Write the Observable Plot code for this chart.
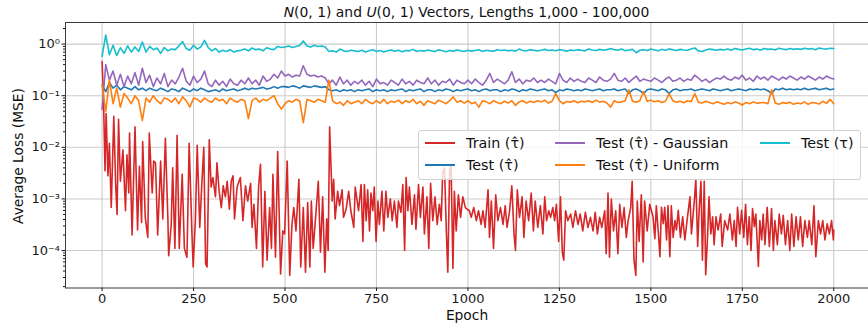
<!DOCTYPE html>
<html><head><meta charset="utf-8">
<script src="https://cdn.jsdelivr.net/npm/d3@7"></script>
<script src="https://cdn.jsdelivr.net/npm/@observablehq/plot@0.6"></script>
<style>
body{margin:0;background:#fff;font-family:"DejaVu Sans",sans-serif;}
#wrap{position:relative;width:868px;height:325px;overflow:hidden;background:#fff;}
#title{position:absolute;top:3px;left:65px;width:803px;text-align:center;font-size:13.9px;color:#111;white-space:nowrap;line-height:18px;}
#legend{position:absolute;left:418px;top:130px;width:443px;height:50px;box-sizing:border-box;border:1px solid #d0d0d0;border-radius:3px;background:rgba(255,255,255,0.8);font-size:14.3px;color:#111;}
.li{position:absolute;white-space:nowrap;line-height:16px;}
.ls{position:absolute;height:2px;}
#chart svg, #chart svg text{font-family:"DejaVu Sans",sans-serif !important;}
#chart svg text{font-size:13px;}
#chart svg text.axlab{font-size:13.8px;}
</style></head><body>
<div id="wrap"><div id="chart"></div><div id="title"><i>N</i>(0, 1) and <i>U</i>(0, 1) Vectors, Lengths 1,000 - 100,000</div><div id="legend"></div></div>
<script>
// ---------- data ----------
const seriesNames = ["Train (\u03C4\u0302)", "Test (\u03C4\u0302)", "Test (\u03C4\u0302) - Gaussian", "Test (\u03C4\u0302) - Uniform", "Test (\u03C4)"];
const seriesColors = ["#d62728", "#1f77b4", "#9467bd", "#ff7f0e", "#17becf"];
const xTicks = [0, 250, 500, 750, 1000, 1250, 1500, 1750, 2000];
const yTicks = [1e-4, 1e-3, 1e-2, 1e-1, 1];
const yLabel = "Average Loss (MSE)";
const xLabel = "Epoch";

// Train: [epoch, loss] local extremes
const trainReadings = [
[0,0.46],[4,0.08],[8,3.5e-3],[11,0.045],[16,2.8e-3],[20,0.012],[25,6.8e-4],[32,0.04],[37,2.0e-3],[41,5.0e-4],
[45,0.035],[50,2.2e-3],[57,8.9e-3],[64,5.9e-4],[68,7.2e-3],[73,1.3e-3],[75,1.9e-2],[82,2.0e-4],[90,2.5e-2],[97,2.5e-4],
[102,4.3e-3],[108,3.5e-4],[111,1.3e-2],[118,4.4e-4],[125,1.8e-4],[129,1.9e-2],[137,1.3e-3],[141,5.4e-3],[146,5.0e-3],[152,2.0e-4],
[160,5.4e-3],[166,4.1e-4],[173,1.5e-2],[180,3.8e-4],[182,7.9e-5],[189,3.2e-4],[193,4.0e-3],[199,1.1e-4],[205,1.7e-2],[211,1.1e-4],
[219,3.0e-3],[225,1.1e-4],[232,7.4e-5],[238,1.2e-2],[246,1.8e-4],[249,4.8e-5],[255,3.8e-4],[260,1.1e-2],[267,2.8e-4],[273,2.2e-3],
[278,1.0e-2],[283,5.5e-5],[287,4.8e-5],[293,1.4e-2],[298,1.7e-3],[303,2.6e-3],[310,1.1e-3],[314,5.0e-3],[320,1.4e-3],[326,6.8e-4],
[331,1.8e-3],[337,1.1e-3],[342,2.2e-3],[348,6.3e-4],[353,2.2e-3],[358,2.8e-3],[362,4.1e-4],[369,1.7e-3],[378,2.6e-3],[385,3.8e-4],
[392,1.8e-3],[398,9.1e-4],[406,2.0e-3],[410,2.8e-4],[415,7.9e-4],[422,1.1e-4],[428,1.8e-3],[433,4.7e-3],[439,4.8e-5],[445,1.4e-3],
[451,6.5e-5],[458,6.8e-4],[463,1.1e-4],[467,3.0e-3],[474,7.4e-5],[480,8.3e-3],[488,3.5e-5],[494,2.4e-4],[499,2.1e-4],[506,5.4e-3],
[513,3.3e-5],[519,3.2e-4],[524,6.8e-4],[530,2.4e-4],[538,2.4e-3],[543,4.8e-5],[550,6.8e-4],[556,3.8e-5],[562,8.5e-4],[568,4.8e-5],
[572,9.1e-4],[577,1.1e-4],[583,3.8e-4],[591,2.2e-3],[597,9.3e-5],[603,1.1e-3],[609,3.8e-5],[614,4.1e-4],[618,1.0e-4],[622,2.5e-2],
[629,9.1e-4],[633,2.4e-3],[637,4.1e-4],[644,1.4e-3],[649,7.4e-4],[656,1.5e-3],[660,4.4e-4],[667,6.3e-4],[674,1.4e-3],[680,5.9e-4],
[688,2.8e-4],[692,1.7e-3],[701,5.9e-4],[708,1.9e-3],[713,1.5e-4],[717,1.9e-3],[722,3.8e-4],[726,1.5e-3],[731,2.4e-4],[735,1.3e-3],
[740,5.9e-4],[744,1.7e-3],[749,1.5e-4],[754,9.1e-4],[758,3.2e-4],[765,1.4e-3],[770,2.4e-4],[776,1.4e-3],[781,4.4e-4],[788,1.0e-3],
[793,3.8e-4],[799,9.1e-4],[806,2.8e-4],[810,9.1e-4],[817,5.5e-4],[822,1.9e-3],[827,1.0e-4],[831,2.6e-3],[836,5.9e-4],[840,1.7e-3],
[847,3.2e-4],[854,1.2e-3],[858,2.6e-4],[865,1.9e-3],[870,4.4e-4],[877,1.7e-3],[881,2.1e-4],[888,1.1e-3],[893,1.1e-4],[898,2.0e-3],
[904,3.8e-4],[910,1.1e-3],[916,3.2e-4],[922,7.9e-4],[927,3.8e-4],[931,3.2e-3],[936,4.0e-3],[941,2.4e-4],[945,3.8e-5],[950,3.5e-3],
[954,4.7e-3],[959,4.5e-5],[963,1.4e-3],[968,2.4e-4],[974,1.2e-3],[980,4.4e-4],[986,1.1e-3],[993,6.8e-4],[998,6.3e-4],[1004,5.9e-4],
[1009,4.4e-4],[1016,6.8e-4],[1023,3.8e-4],[1029,5.9e-4],[1036,3.2e-4],[1041,5.9e-4],[1047,2.8e-4],[1055,1.5e-3],[1059,1.8e-4],[1064,9.1e-4],
[1070,1.1e-4],[1076,1.2e-3],[1082,3.8e-4],[1089,6.8e-4],[1096,3.2e-4],[1102,7.4e-4],[1107,2.8e-4],[1114,5.9e-4],[1120,1.8e-3],[1126,2.1e-4],
[1130,1.0e-4],[1135,1.5e-3],[1141,4.4e-4],[1148,1.1e-3],[1153,1.8e-4],[1159,9.1e-4],[1166,3.8e-4],[1173,1.3e-3],[1179,2.4e-4],[1184,9.1e-4],
[1191,2.8e-4],[1198,7.4e-4],[1205,2.1e-4],[1210,1.1e-3],[1215,3.8e-4],[1221,5.9e-4],[1226,4.4e-4],[1232,6.8e-4],[1237,3.8e-4],[1242,7.9e-4],
[1248,1.5e-4],[1253,1.1e-3],[1258,9.3e-5],[1262,6.5e-5],[1267,5.9e-4],[1273,3.8e-4],[1281,5.1e-4],[1287,2.8e-4],[1294,5.9e-4],[1301,3.2e-4],
[1307,5.1e-4],[1314,2.4e-4],[1321,5.5e-4],[1328,2.8e-4],[1335,4.4e-4],[1342,2.4e-4],[1348,5.5e-4],[1354,2.1e-4],[1360,4.4e-4],[1366,2.8e-4],
[1374,5.9e-4],[1378,8.7e-5],[1383,1.3e-3],[1387,7.4e-5],[1392,1.0e-3],[1398,2.4e-4],[1404,5.9e-4],[1410,8.7e-5],[1415,7.9e-4],[1421,2.8e-4],
[1427,6.8e-4],[1433,1.8e-4],[1438,3.8e-4],[1445,6.8e-4],[1449,2.2e-3],[1454,6.5e-5],[1459,3.3e-5],[1463,9.1e-4],[1468,1.5e-4],[1474,1.2e-3],
[1479,6.0e-5],[1483,9.1e-4],[1490,2.4e-4],[1497,7.9e-4],[1506,4.5e-4],[1511,1.7e-4],[1515,7.4e-4],[1520,2.5e-4],[1525,7.6e-5],[1529,6.9e-4],
[1534,3.3e-4],[1538,6.9e-4],[1543,1.6e-4],[1547,7.4e-4],[1552,7.6e-5],[1556,7.4e-4],[1561,1.8e-4],[1566,3.8e-4],[1570,2.5e-4],[1575,6.0e-4],
[1581,1.8e-4],[1587,4.5e-4],[1593,1.6e-4],[1599,3.8e-4],[1607,1.1e-3],[1611,2.1e-4],[1619,9.3e-4],[1623,2.4e-3],[1628,1.2e-4],[1632,6.0e-4],
[1637,2.2e-3],[1641,6.5e-5],[1646,2.2e-3],[1650,3.4e-5],[1655,1.8e-4],[1659,1.1e-3],[1664,2.1e-4],[1669,4.5e-4],[1673,1.3e-4],[1678,4.5e-4],
[1684,2.5e-4],[1691,5.1e-4],[1695,1.2e-4],[1702,3.8e-4],[1710,2.5e-4],[1716,5.1e-4],[1723,1.6e-4],[1728,3.8e-4],[1733,1.2e-4],[1737,6.9e-4],
[1743,2.1e-4],[1748,6.0e-4],[1754,1.8e-4],[1759,7.9e-4],[1764,1.3e-4],[1769,4.5e-4],[1774,1.0e-4],[1778,6.5e-4],[1783,2.9e-4],[1787,5.1e-4],
[1794,4.9e-5],[1798,3.8e-4],[1803,1.6e-4],[1807,5.1e-4],[1812,1.3e-4],[1818,6.9e-4],[1824,1.2e-4],[1830,6.5e-4],[1835,1.0e-4],[1839,3.8e-4],
[1846,1.3e-4],[1851,5.1e-4],[1857,2.1e-4],[1862,4.8e-4],[1868,1.3e-4],[1874,3.8e-4],[1880,1.0e-4],[1885,5.1e-4],[1891,1.2e-4],[1897,4.5e-4],
[1903,1.6e-4],[1909,4.5e-4],[1915,1.2e-4],[1921,3.8e-4],[1928,1.8e-4],[1933,3.8e-4],[1940,1.3e-4],[1946,7.4e-4],[1951,7.6e-5],[1958,3.8e-4],
[1964,2.1e-4],[1970,3.8e-4],[1976,1.6e-4],[1982,3.3e-4],[1988,2.1e-4],[1994,3.8e-4],[1999,1.6e-4],[2000,2.5e-4]
];

// Test series: one reading every 10 epochs (0..2000)
const testBar = [
0.16,0.12,0.18,0.14,0.16,0.13,0.15,0.14,0.13,0.15,
0.13,0.14,0.125,0.14,0.13,0.125,0.14,0.13,0.12,0.135,
0.13,0.12,0.14,0.13,0.12,0.135,0.125,0.14,0.13,0.12,
0.125,0.13,0.12,0.135,0.125,0.13,0.135,0.125,0.13,0.14,
0.13,0.14,0.135,0.14,0.145,0.135,0.14,0.15,0.14,0.15,
0.15,0.145,0.155,0.15,0.14,0.155,0.15,0.145,0.155,0.15,
0.145,0.15,0.13,0.125,0.13,0.12,0.13,0.125,0.13,0.12,
0.13,0.125,0.13,0.135,0.12,0.13,0.125,0.13,0.12,0.13,
0.125,0.13,0.135,0.12,0.13,0.125,0.13,0.135,0.12,0.13,
0.13,0.12,0.13,0.125,0.135,0.13,0.12,0.13,0.125,0.13,
0.135,0.125,0.13,0.12,0.13,0.135,0.125,0.13,0.13,0.12,
0.13,0.125,0.135,0.13,0.12,0.13,0.125,0.135,0.13,0.125,
0.13,0.135,0.125,0.13,0.115,0.13,0.125,0.135,0.13,0.125,
0.13,0.125,0.135,0.13,0.125,0.13,0.135,0.125,0.13,0.13,
0.135,0.125,0.13,0.135,0.11,0.13,0.135,0.125,0.11,0.13,
0.135,0.13,0.125,0.135,0.13,0.11,0.13,0.135,0.125,0.13,
0.13,0.135,0.125,0.13,0.135,0.13,0.125,0.135,0.13,0.125,
0.13,0.135,0.125,0.13,0.135,0.13,0.125,0.135,0.13,0.135,
0.13,0.135,0.125,0.11,0.135,0.13,0.14,0.13,0.135,0.13,
0.135,0.13,0.14,0.13,0.135,0.14,0.13,0.135,0.14,0.13,
0.135];
const testGaussian = [
0.054,0.4,0.2,0.3,0.16,0.26,0.15,0.24,0.17,0.28,
0.16,0.34,0.18,0.25,0.15,0.22,0.17,0.27,0.15,0.2,
0.17,0.23,0.34,0.19,0.16,0.24,0.18,0.21,0.3,0.17,
0.15,0.2,0.16,0.19,0.15,0.21,0.17,0.16,0.2,0.17,
0.22,0.17,0.2,0.16,0.24,0.19,0.21,0.26,0.22,0.3,
0.24,0.26,0.23,0.25,0.24,0.38,0.26,0.24,0.25,0.23,
0.24,0.22,0.17,0.2,0.16,0.23,0.17,0.2,0.16,0.19,
0.17,0.2,0.16,0.19,0.15,0.21,0.17,0.18,0.16,0.2,
0.18,0.16,0.21,0.17,0.19,0.16,0.2,0.18,0.17,0.22,
0.17,0.2,0.16,0.19,0.18,0.21,0.16,0.2,0.18,0.17,
0.2,0.17,0.21,0.18,0.16,0.2,0.27,0.18,0.21,0.19,
0.17,0.2,0.29,0.18,0.21,0.17,0.2,0.19,0.22,0.18,
0.2,0.18,0.21,0.19,0.17,0.27,0.2,0.18,0.22,0.19,
0.21,0.19,0.18,0.22,0.2,0.18,0.23,0.2,0.19,0.21,
0.27,0.2,0.19,0.22,0.18,0.21,0.24,0.19,0.21,0.2,
0.19,0.22,0.2,0.18,0.21,0.23,0.19,0.2,0.22,0.19,
0.21,0.2,0.25,0.22,0.19,0.21,0.18,0.2,0.22,0.21,
0.24,0.21,0.2,0.23,0.21,0.25,0.2,0.22,0.19,0.24,
0.21,0.23,0.2,0.24,0.22,0.2,0.23,0.21,0.24,0.22,
0.2,0.23,0.21,0.24,0.22,0.2,0.23,0.21,0.24,0.22,
0.21];
const testUniform = [
0.16,0.05,0.2,0.07,0.14,0.06,0.11,0.09,0.07,0.1,
0.08,0.033,0.09,0.075,0.1,0.08,0.07,0.09,0.085,0.075,
0.09,0.07,0.095,0.08,0.06,0.09,0.085,0.075,0.09,0.08,
0.075,0.09,0.08,0.085,0.07,0.09,0.08,0.075,0.085,0.08,
0.036,0.08,0.09,0.075,0.085,0.08,0.09,0.1,0.07,0.055,
0.07,0.08,0.075,0.085,0.08,0.03,0.085,0.08,0.075,0.085,
0.08,0.075,0.2,0.08,0.07,0.075,0.065,0.08,0.07,0.075,
0.08,0.07,0.085,0.075,0.07,0.08,0.072,0.085,0.07,0.078,
0.075,0.082,0.07,0.08,0.074,0.085,0.07,0.078,0.065,0.08,
0.075,0.07,0.082,0.076,0.07,0.08,0.095,0.075,0.08,0.072,
0.08,0.07,0.075,0.06,0.08,0.076,0.07,0.08,0.074,0.07,
0.078,0.072,0.08,0.065,0.076,0.08,0.072,0.078,0.074,0.08,
0.076,0.082,0.072,0.078,0.11,0.08,0.07,0.077,0.075,0.08,
0.073,0.078,0.076,0.08,0.074,0.082,0.075,0.078,0.072,0.06,
0.08,0.074,0.076,0.08,0.13,0.078,0.075,0.08,0.12,0.078,
0.082,0.076,0.08,0.074,0.078,0.11,0.08,0.075,0.078,0.073,
0.08,0.076,0.11,0.075,0.072,0.078,0.074,0.07,0.076,0.072,
0.068,0.074,0.07,0.076,0.072,0.066,0.074,0.07,0.076,0.071,
0.073,0.074,0.07,0.13,0.072,0.068,0.074,0.071,0.075,0.068,
0.072,0.07,0.076,0.068,0.074,0.072,0.069,0.078,0.071,0.085,
0.07];
const testTau = [
0.58,1.5,0.62,0.95,0.6,0.85,0.66,0.92,0.7,0.88,
0.72,1.1,0.7,0.9,0.78,0.84,0.66,0.86,0.74,0.8,
0.78,0.92,1.12,0.82,0.76,0.95,0.8,0.88,1.18,0.86,
0.74,0.82,0.7,0.76,0.72,0.78,0.7,0.74,0.76,0.8,
0.74,0.84,0.78,0.8,0.74,0.85,0.8,0.78,0.9,0.86,
0.88,0.92,0.86,0.9,0.94,1.15,0.92,0.88,0.95,0.9,
0.92,0.88,0.72,0.74,0.7,0.8,0.74,0.72,0.76,0.74,
0.72,0.76,0.7,0.74,0.78,0.72,0.75,0.7,0.74,0.77,
0.73,0.76,0.71,0.75,0.74,0.79,0.72,0.75,0.73,0.77,
0.74,0.72,0.78,0.74,0.71,0.75,0.73,0.77,0.74,0.72,
0.76,0.73,0.75,0.78,0.72,0.76,0.74,0.73,0.78,0.75,
0.77,0.74,0.76,0.73,0.8,0.75,0.74,0.78,0.76,0.74,
0.76,0.79,0.75,0.77,0.74,0.78,0.76,0.73,0.77,0.75,
0.78,0.76,0.74,0.8,0.77,0.75,0.79,0.76,0.78,0.82,
0.78,0.76,0.8,0.74,0.77,0.79,0.68,0.76,0.78,0.75,
0.8,0.77,0.74,0.79,0.76,0.8,0.78,0.75,0.79,0.77,
0.76,0.8,0.84,0.74,0.72,0.77,0.8,0.78,0.76,0.79,
0.77,0.8,0.76,0.82,0.79,0.77,0.8,0.83,0.78,0.8,
0.76,0.82,0.79,0.8,0.77,0.83,0.8,0.78,0.82,0.79,
0.81,0.79,0.83,0.8,0.82,0.78,0.84,0.81,0.8,0.83,
0.82];
const testStep = 10;

// ---------- build ----------
const toRows = (vals, s) => vals.map((v, i) => ({epoch: i * testStep, loss: v, s}));
const rows = [
  trainReadings.map(([e, v]) => ({epoch: e, loss: v, s: 0})),
  toRows(testBar, 1), toRows(testGaussian, 2), toRows(testUniform, 3), toRows(testTau, 4)
];
const supDigits = {"0":"\u2070","1":"\u00B9","2":"\u00B2","3":"\u00B3","4":"\u2074","5":"\u2075","-":"\u207B"};
const fmtPow = d => "10" + String(Math.round(Math.log10(d))).split("").map(c => supDigits[c]).join("");
const yDomain = [1.88e-5, 2.62];
const minorTicks = [];
for (let k = -5; k <= 0; k++) for (let m = 2; m <= 9; m++) { const v = m * Math.pow(10, k); if (v >= yDomain[0] && v <= yDomain[1]) minorTicks.push(v); }

const gridStyle = {stroke: "#cccccc", strokeOpacity: 1, strokeWidth: 1.1};
const chart = Plot.plot({
  width: 868, height: 325,
  marginLeft: 65, marginRight: 0, marginTop: 22, marginBottom: 37.5,
  style: {fontFamily: "DejaVu Sans", fontSize: "13px", color: "#1a1a1a", background: "white", overflow: "visible"},
  x: {domain: [-100, 2095]},
  y: {type: "log", domain: yDomain},
  marks: [
    Plot.gridX(xTicks, gridStyle),
    Plot.gridY(yTicks, gridStyle),
    ...rows.map((r, i) => Plot.line(r, {x: "epoch", y: "loss", stroke: seriesColors[i], strokeWidth: 1.6, strokeLinejoin: "round"})),
    Plot.frame({stroke: "#3a3a3a", strokeWidth: 1}),
    Plot.axisX(xTicks, {tickSize: 3.5, tickPadding: 2.5, tickFormat: d => String(d), label: null}),
    Plot.axisY(yTicks, {tickSize: 3.5, tickPadding: 2, tickFormat: fmtPow, label: null}),
    Plot.axisY(minorTicks, {tickSize: 2, tickFormat: () => "", label: null})
  ]
});
document.getElementById("chart").appendChild(chart);
const svg = d3.select(chart);
svg.selectAll("text").attr("font-size", null).attr("font-family", null)
  .style("font-family", "DejaVu Sans").style("font-size", "13px");
svg.append("text").attr("class", "axlab").attr("x", 467).attr("y", 320).attr("text-anchor", "middle")
  .attr("fill", "#111").text(xLabel);
svg.append("text").attr("class", "axlab").attr("transform", "translate(23,156) rotate(-90)").attr("text-anchor", "middle")
  .attr("fill", "#111").text(yLabel);

// ---------- legend ----------
const legend = document.getElementById("legend");
const legendOrder = [0, 1, 2, 3, 4];
const colX = [[6, 47], [136, 177], [341, 382]];
legendOrder.forEach((si, k) => {
  const col = Math.floor(k / 2), row = k % 2;
  const cy = row === 0 ? 12 : 34;
  const ln = document.createElement("div");
  ln.className = "ls";
  ln.style.left = colX[col][0] + "px"; ln.style.top = (cy - 1) + "px"; ln.style.width = "30px";
  ln.style.background = seriesColors[si];
  legend.appendChild(ln);
  const tx = document.createElement("div");
  tx.className = "li";
  tx.style.left = colX[col][1] + "px"; tx.style.top = (cy - 8) + "px";
  tx.textContent = seriesNames[si];
  legend.appendChild(tx);
});
</script>
</body></html>
